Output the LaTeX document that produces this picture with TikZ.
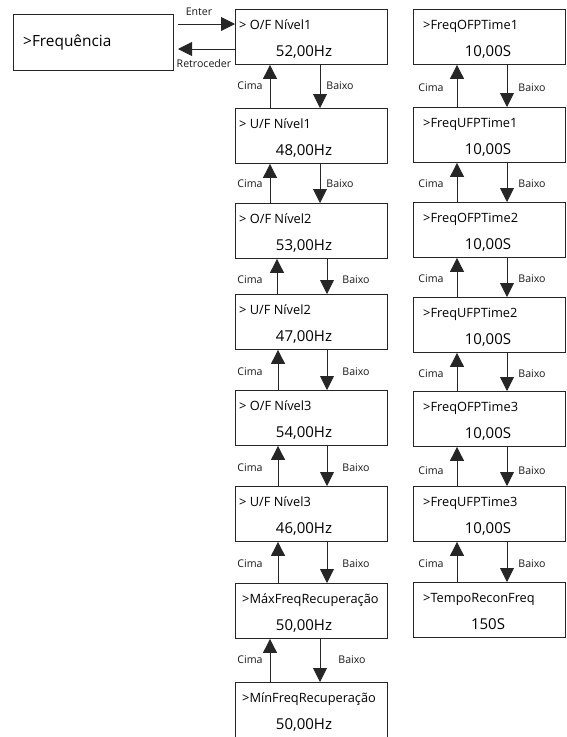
\documentclass[tikz,border=0pt]{standalone}
\usepackage{fontspec}
\setmainfont{Open Sans}
\usetikzlibrary{arrows.meta}
\tikzset{
  menubox/.style={draw=black!85, line width=0.9pt, minimum width=152pt, minimum height=55pt, inner sep=0pt},
  firsttxt/.style={font=\fontsize{12.8}{14}\selectfont, inner sep=0pt},
  valtxt/.style={font=\fontsize{15}{17}\selectfont, inner sep=0pt},
  lbl/.style={font=\fontsize{10.6}{12}\selectfont, inner sep=0pt, text=black!90},
  arr/.style={draw=black!85, line width=0.9pt, -{Triangle[width=14pt,length=14pt]}},
}
% #1 options, #2 name, #3 x, #4 y, #5 text offset, #6 first line, #7 value x offset, #8 value
\newcommand\mitem[8][]{%
  \node[menubox, anchor=north west, #1] (#2) at (#3,#4) {};
  \node[firsttxt, anchor=base west] (#2t) at ([xshift=#5pt,yshift=-20pt]#2.north west) {#6};
  \node[valtxt, anchor=base] (#2v) at ([xshift=#7pt,yshift=-47pt]#2.north west) {#8};
}
% #1 upper, #2 lower, #3 up x, #4 down x, #5 Cima x, #6 Baixo x, #7 label y
\newcommand\updown[7]{%
  \coordinate (ux#1) at (#3,0);
  \coordinate (dx#1) at (#4,0);
  \draw[arr] (ux#1 |- #2.north) -- (ux#1 |- #1.south);
  \draw[arr] (dx#1 |- #1.south) -- (dx#1 |- #2.north);
  \node[lbl] (c#1) at (#5,#7) {Cima};
  \node[lbl] (b#1) at (#6,#7) {Baixo};
}
\begin{document}
\begin{tikzpicture}[x=1pt,y=-1pt]
\useasboundingbox (0,0) rectangle (566,737);
% left box
\node[draw=black!85, line width=0.9pt, minimum width=160pt, minimum height=56pt, anchor=north west, inner sep=0pt] (freq) at (13,14) {};
\node[font=\fontsize{15.4}{17}\selectfont, inner sep=0pt, anchor=west] (freqt) at (23,42) {>Frequência};
% middle column
\mitem{m1}{235}{9}{4}{> O/F Nível1}{69}{52,00Hz}
\mitem{m2}{235}{108}{4}{> U/F Nível1}{69}{48,00Hz}
\mitem{m3}{235}{203}{4}{> O/F Nível2}{69}{53,00Hz}
\mitem{m4}{235}{294}{4}{> U/F Nível2}{69}{47,00Hz}
\mitem{m5}{235}{390}{4}{> O/F Nível3}{69}{54,00Hz}
\mitem{m6}{235}{486}{4}{> U/F Nível3}{69}{46,00Hz}
\mitem{m7}{235}{583}{7}{>MáxFreqRecuperação}{69}{50,00Hz}
\mitem[minimum height=62pt]{m8}{235}{682}{7}{>MínFreqRecuperação}{69}{50,00Hz}
% right column
\mitem{r1}{413}{9}{10}{>FreqOFPTime1}{75}{10,00S}
\mitem{r2}{413}{107}{10}{>FreqUFPTime1}{75}{10,00S}
\mitem{r3}{413}{202}{10}{>FreqOFPTime2}{75}{10,00S}
\mitem{r4}{413}{297}{10}{>FreqUFPTime2}{75}{10,00S}
\mitem{r5}{413}{391}{10}{>FreqOFPTime3}{75}{10,00S}
\mitem{r6}{413}{486}{10}{>FreqUFPTime3}{75}{10,00S}
\mitem{r7}{413}{582}{10}{>TempoReconFreq}{75}{150S}
% enter / back
\coordinate (e1) at (178,24);
\coordinate (e2) at (178,49);
\draw[arr] (e1) -- (e1 -| m1.west);
\draw[arr] (e2 -| m1.west) -- (e2);
\node[lbl] (enter) at (199,12) {Enter};
\node[lbl] (back) at (204,64) {Retroceder};
% middle arrows
\updown{m1}{m2}{270}{320}{250}{340}{86}
\updown{m2}{m3}{270}{320}{250}{340}{184}
\updown{m3}{m4}{277}{327}{250}{356}{280}
\updown{m4}{m5}{278}{327}{250}{356}{372}
\updown{m5}{m6}{278}{327}{250}{356}{468}
\updown{m6}{m7}{278}{327}{250}{356}{564}
\updown{m7}{m8}{270}{320}{250}{352}{660}
% right arrows
\updown{r1}{r2}{457}{507}{431}{532}{88}
\updown{r2}{r3}{457}{507}{431}{532}{184}
\updown{r3}{r4}{457}{507}{431}{532}{279}
\updown{r4}{r5}{457}{507}{431}{532}{374}
\updown{r5}{r6}{457}{507}{431}{532}{471}
\updown{r6}{r7}{457}{507}{431}{532}{564}
\end{tikzpicture}
\end{document}
